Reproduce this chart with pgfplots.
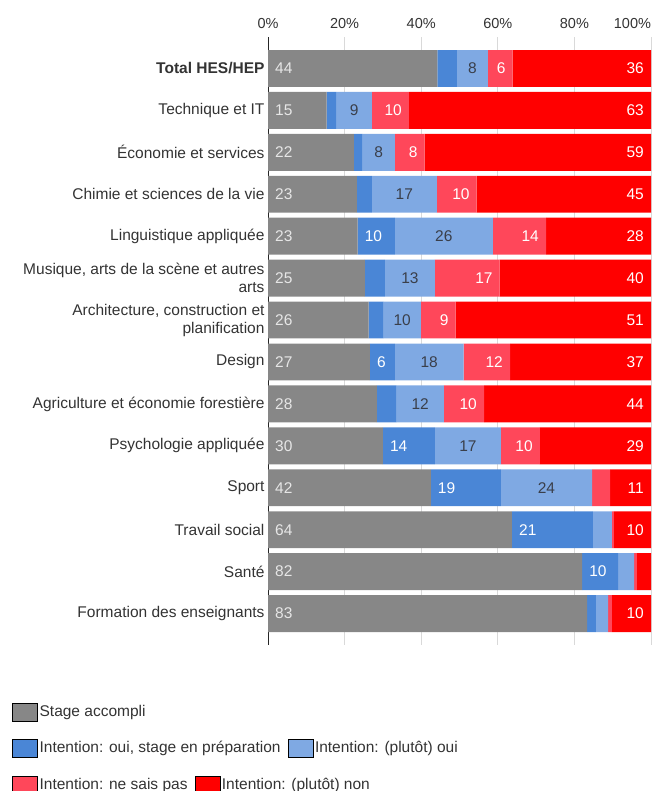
\documentclass[border=0pt]{standalone}
\usepackage{fontspec}
\setmainfont{Liberation Sans}
\usepackage{pgfplots}
\usepackage{pgfplotstable}
\pgfplotsset{compat=1.18}

\definecolor{cdone}{HTML}{878787}
\definecolor{cprep}{HTML}{4A86D6}
\definecolor{cyes}{HTML}{7FA9E3}
\definecolor{cdk}{HTML}{FF475A}
\definecolor{cno}{HTML}{FF0000}
\definecolor{txt}{HTML}{333333}
\definecolor{darklbl}{HTML}{3A3F4A}
\definecolor{lightlbl}{HTML}{E6E6E6}

\newcommand\lbl{\fontsize{15.5}{18}\selectfont}

% g = stage accompli, d = oui/en preparation, l = (plutot) oui, p = ne sais pas, r = (plutot) non
\pgfplotstableread{
row g d l p r lg ld ll lp lr
0 44.2 5.1 8.1 6.5 36.1 44 {} 8 6 36
1 15.3 2.6 9.2 9.7 63.2 15 {} 9 10 63
2 22.4 2.3 8.4 7.8 59.1 22 {} 8 8 59
3 23.2 3.9 17.0 10.4 45.5 23 {} 17 10 45
4 23.4 9.7 25.6 13.9 27.4 23 10 26 14 28
5 25.3 5.2 13.1 16.9 39.5 25 {} 13 17 40
6 26.3 3.9 9.7 9.1 51.0 26 {} 10 9 51
7 26.6 6.5 18.0 12.1 36.8 27 6 18 12 37
8 28.4 5.2 12.3 10.5 43.6 28 {} 12 10 44
9 30.0 13.6 17.2 10.2 29.0 30 14 17 10 29
10 42.5 18.3 23.8 4.7 10.7 42 19 24 {} 11
11 63.7 21.1 5.0 0.5 9.7 64 21 {} {} 10
12 82.0 9.4 4.2 0.7 3.7 82 10 {} {} {}
13 83.3 2.3 3.2 1.0 10.2 83 {} {} {} 10
}\data

\pgfplotsset{
  panel/.style={at={(268pt,-37pt)}, anchor=north west, scale only axis,
    width=383pt, height=608pt, xmin=0, xmax=100, ymin=-0.75, ymax=13.75, y dir=reverse},
  lbls/.style={only marks, mark=text, text mark={},
    nodes near coords, point meta=explicit symbolic},
  legrow/.style={panel, hide axis, legend columns=-1,
    legend style={at={(#1)}, anchor=west, draw=none, fill=none, inner sep=0pt,
      font=\lbl, text=txt, legend cell align=left,
      /tikz/every even column/.append style={column sep=5pt}},
    legend image code/.code={\fill[##1] (0pt,-9pt) rectangle (25pt,9pt);}},
}

\begin{document}
\begin{tikzpicture}
\path[use as bounding box] (0pt,0pt) rectangle (656pt,-791pt);
\clip (0pt,0pt) rectangle (656pt,-791pt);

\begin{axis}[panel,
  xbar stacked, bar width=0.88,
  axis x line*=top, axis y line*=left,
  x axis line style={draw=none},
  y axis line style={draw=black!85, line width=0.8pt},
  xtick={0,20,...,100},
  xticklabels={0\%,20\%,40\%,60\%,80\%,\makebox[0pt][r]{100\%}},
  xticklabel style={font=\fontsize{14.5}{17}\selectfont, text=txt, yshift=5pt},
  major tick length=0pt,
  xmajorgrids, grid style={draw=black!15, line width=0.8pt},
  ytick={0,...,13},
  yticklabels={\textbf{Total HES/HEP}, Technique et IT, Économie et services,
    Chimie et sciences de la vie, Linguistique appliquée,
    {Musique, arts de la scène et autres\\arts},
    {Architecture, construction et\\planification}, Design,
    Agriculture et économie forestière, Psychologie appliquée, Sport,
    Travail social, Santé, Formation des enseignants},
  yticklabel style={font=\lbl, text=txt, align=right},
]
\addplot[draw=none, fill=cdone] table[x=g, y=row]{\data};
\addplot[draw=none, fill=cprep] table[x=d, y=row]{\data};
\addplot[draw=none, fill=cyes] table[x=l, y=row]{\data};
\addplot[draw=none, fill=cdk] table[x=p, y=row]{\data};
\addplot[draw=none, fill=cno] table[x=r, y=row]{\data};
\end{axis}

\begin{axis}[panel, hide axis, clip=false,
  every node near coord/.append style={font=\lbl, inner sep=0pt}]
\addplot[lbls, every node near coord/.append style={anchor=west, xshift=7pt, text=lightlbl}]
  table[x expr=0, y=row, meta=lg]{\data};
\addplot[lbls, every node near coord/.append style={anchor=west, xshift=7pt, text=white}]
  table[x expr=\thisrow{g}, y=row, meta=ld]{\data};
\addplot[lbls, every node near coord/.append style={anchor=center, text=darklbl}]
  table[x expr=\thisrow{g}+\thisrow{d}+0.5*\thisrow{l}, y=row, meta=ll]{\data};
\addplot[lbls, every node near coord/.append style={anchor=east, xshift=-7pt, text=white}]
  table[x expr=\thisrow{g}+\thisrow{d}+\thisrow{l}+\thisrow{p}, y=row, meta=lp]{\data};
\addplot[lbls, every node near coord/.append style={anchor=east, xshift=-7pt, text=white}]
  table[x expr=100, y=row, meta=lr]{\data};
\end{axis}

\begin{axis}[legrow={-0.6684,-0.1102}]
\addlegendimage{fill=cdone}
\addlegendentry{Stage accompli}
\end{axis}
\begin{axis}[legrow={-0.6684,-0.1694}]
\addlegendimage{fill=cprep}
\addlegendentry{Intention: oui, stage en préparation}
\addlegendimage{fill=cyes}
\addlegendentry{Intention: (plutôt) oui}
\end{axis}
\begin{axis}[legrow={-0.6684,-0.2303}]
\addlegendimage{fill=cdk}
\addlegendentry{Intention: ne sais pas}
\addlegendimage{fill=cno}
\addlegendentry{Intention: (plutôt) non}
\end{axis}
\end{tikzpicture}
\end{document}
